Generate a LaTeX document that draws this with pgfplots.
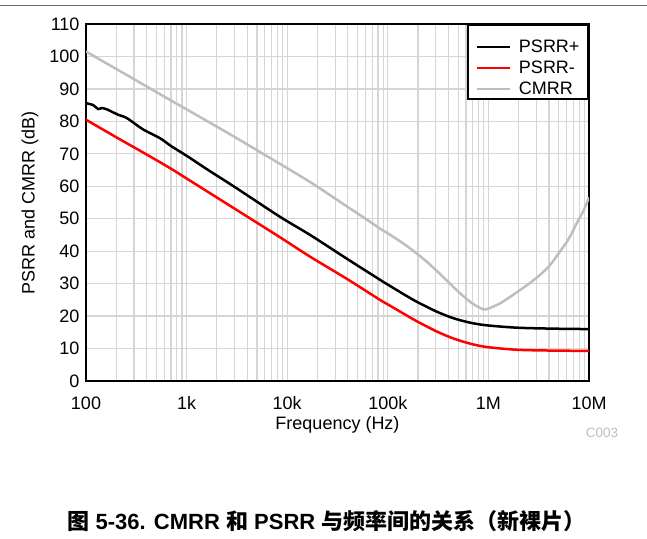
\documentclass[border=0pt]{standalone}
\usepackage{pgfplots}
\pgfplotsset{compat=1.18}
\usepackage{fontspec}
\setmainfont{Liberation Sans}
\newfontfamily\cjk{Noto Sans CJK SC}
\newcommand{\C}[1]{{\cjk #1}}
\definecolor{gridgray}{RGB}{214,214,214}
\definecolor{cmrrgray}{RGB}{190,190,190}
\definecolor{topline}{RGB}{110,110,110}
\begin{document}
\begin{tikzpicture}[x=1pt,y=1pt]
\path[use as bounding box] (0,0) rectangle (647,538);
\draw[line width=1.5pt, color=topline] (0,532.5) -- (647,532.5);
\begin{axis}[
  at={(86pt,157pt)}, anchor=south west,
  scale only axis, width=503pt, height=357pt,
  xmode=log, xmin=100, xmax=1e7, ymin=0, ymax=110,
  ytick={0,10,...,110},
  xtick={100,1000,10000,100000,1000000,10000000},
  xticklabels={100,1k,10k,100k,1M,10M},
  /pgf/number format/assume math mode=true,
  xmajorgrids=true, xminorgrids=true, ymajorgrids=true,
  major grid style={draw=gridgray, line width=1.2pt},
  minor grid style={draw=gridgray, line width=1.2pt},
  major tick length=0pt, minor tick length=0pt,
  axis line style={line width=2.5pt},
  tick label style={font=\fontsize{18}{21}\selectfont},
  label style={font=\fontsize{18}{21}\selectfont},
  xticklabel style={anchor=base, yshift=-28pt},
  yticklabel style={anchor=east, xshift=-3pt},
  xlabel={Frequency (Hz)},
  ylabel={PSRR and CMRR (dB)},
  xlabel style={at={(axis description cs:0.5,-0.123)}, anchor=center},
  ylabel style={at={(axis description cs:-0.1113,0.5)}, anchor=center},
  legend cell align=left,
  legend style={at={(rel axis cs:1,1)}, anchor=north east, draw=black, line width=2pt,
    fill=white, inner xsep=7.5pt, inner ysep=3.5pt, row sep=-4pt,
    font=\fontsize{18}{21}\selectfont,
    nodes={inner sep=1pt, text height=23pt, text depth=0pt}},
  legend image code/.code={\path[draw=none,fill=none] (0pt,-9pt) rectangle (41pt,9pt); \draw[#1] (0pt,-6pt) -- (33pt,-6pt);},
]
\addplot[black, line width=2.5pt, smooth] coordinates {
(100,85.6) (118,85.0) (132,83.8) (143,84.1) (161,83.7) (210,82.0) (255,81.0)
(370,77.5) (545,74.8) (700,72.4) (1000,69.4) (1640,65.0) (3000,59.8)
(8470,50.6) (16900,45.0) (40000,37.5) (83500,31.2) (100000,29.7)
(150000,26.4) (200000,24.2) (300000,21.5) (400000,19.9) (500000,18.9)
(700000,17.8) (1000000,17.1) (2000000,16.4) (5000000,16.1) (10000000,16.0)};
\addlegendentry{PSRR+}
\addplot[red, line width=2.5pt, smooth] coordinates {
(100,80.5) (200,75.1) (400,69.8) (684,65.6) (1000,62.4) (3000,53.1)
(8470,44.3) (16900,38.3) (40000,31.3) (83500,25.0) (100000,23.6)
(150000,20.4) (200000,18.2) (300000,15.4) (400000,13.7) (500000,12.6)
(700000,11.3) (1000000,10.4) (2000000,9.6) (5000000,9.35) (10000000,9.3)};
\addlegendentry{PSRR-}
\addplot[cmrrgray, line width=2.5pt, smooth] coordinates {
(100,101.5) (300,93.0) (684,86.6) (1000,83.7) (3000,75.2) (8470,66.9)
(16900,61.3) (30000,56.2) (60000,50.0) (83500,47.0) (100000,45.5)
(125900,43.5) (158500,41.35) (199500,39.0) (251200,36.4) (316200,33.55)
(398100,30.55) (501200,27.55) (631000,24.85) (749900,23.2) (891000,22.1)
(1000000,22.3) (1303000,23.9) (1585000,25.6) (2061000,28.0) (2588000,30.2)
(3258000,32.7) (4093000,35.7) (5152000,39.9) (6310000,43.9) (7551000,48.6)
(8913000,52.8) (10000000,56.6)};
\addlegendentry{CMRR}
\end{axis}
\node[font=\fontsize{13.5}{16}\selectfont, text=cmrrgray] at (602,105) {C003};
\node[font=\fontsize{22}{26}\selectfont\bfseries] at (326.5,17) {\C{图} 5-36. CMRR \C{和} PSRR \C{与频率间的关系（新裸片）}};
\end{tikzpicture}
\end{document}
